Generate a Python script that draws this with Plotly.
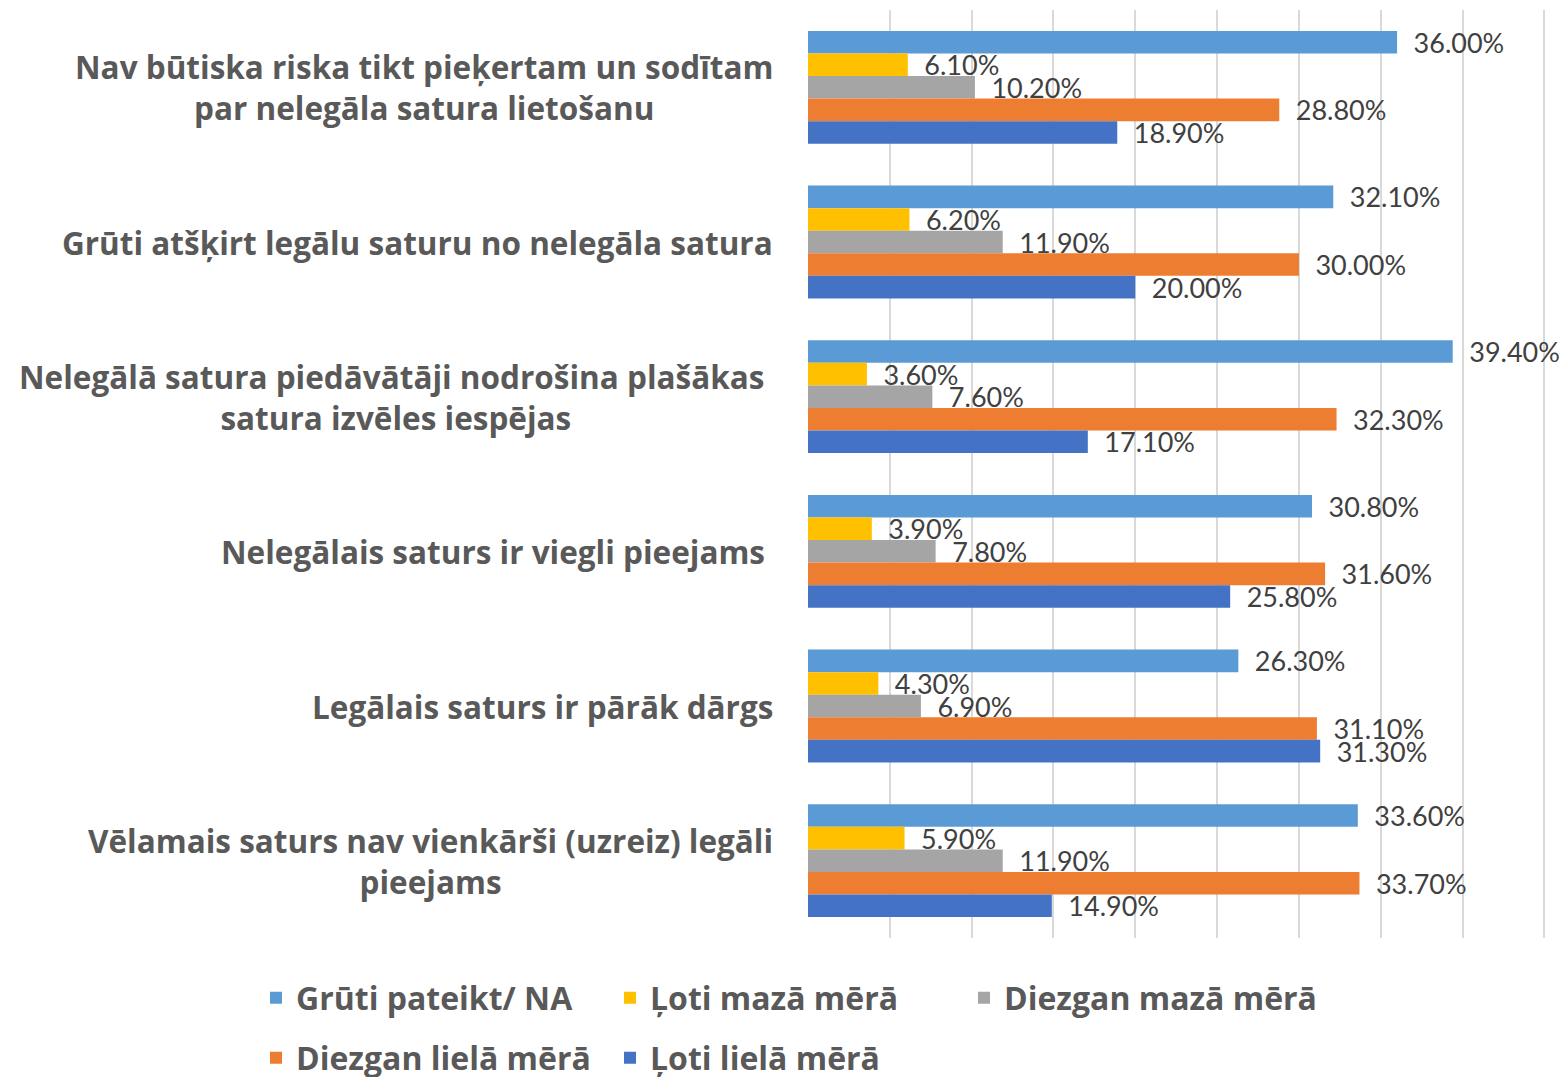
import plotly.graph_objects as go

categories = [
    "Nav būtiska riska tikt pieķertam un sodītam<br>par nelegāla satura lietošanu",
    "Grūti atšķirt legālu saturu no nelegāla satura",
    "Nelegālā satura piedāvātāji nodrošina plašākas\u00a0<br>satura izvēles iespējas",
    "Nelegālais saturs ir viegli pieejams\u00a0",
    "Legālais saturs ir pārāk dārgs",
    "Vēlamais saturs nav vienkārši (uzreiz) legāli<br>pieejams",
]

series_names = ["Grūti pateikt/ NA", "Ļoti mazā mērā", "Diezgan mazā mērā",
                "Diezgan lielā mērā", "Ļoti lielā mērā"]
gruti = [36.0, 32.1, 39.4, 30.8, 26.3, 33.6]
loti_maza = [6.1, 6.2, 3.6, 3.9, 4.3, 5.9]
diezgan_maza = [10.2, 11.9, 7.6, 7.8, 6.9, 11.9]
diezgan_liela = [28.8, 30.0, 32.3, 31.6, 31.1, 33.7]
loti_liela = [18.9, 20.0, 17.1, 25.8, 31.3, 14.9]

series_values = [gruti, loti_maza, diezgan_maza, diezgan_liela, loti_liela]
colors = ["#5B9BD5", "#FFC000", "#A5A5A5", "#ED7D31", "#4472C4"]
legend_ids = ["legend", "legend", "legend", "legend2", "legend2"]

LABEL_FONT = "Open Sans"
VALUE_FONT = "Lato"
TEXT_COLOR = "#595959"

# plot-area geometry (pixels)
W, H = 1564, 1077
ML, MR, MT, MB = 808, 18, 10, 139
PW, PH = W - ML - MR, H - MT - MB

fig = go.Figure()
for name, vals, col, lg in zip(series_names, series_values, colors, legend_ids):
    fig.add_trace(go.Bar(
        y=categories, x=vals, name=name, orientation="h",
        marker=dict(color=col, line=dict(width=0)),
        text=[f"\u2002{v:.2f}%" for v in vals],
        textposition="outside",
        textfont=dict(family=VALUE_FONT, size=27, color="#404040"),
        constraintext="none",
        cliponaxis=False,
        legend=lg,
        hoverinfo="skip",
    ))

for cat in categories:
    fig.add_annotation(
        x=0, xref="paper", y=cat, yref="y",
        text=f"<b>{cat}</b>", showarrow=False,
        xanchor="right", yanchor="middle", xshift=-33,
        align="center",
        font=dict(family=LABEL_FONT, size=31.5, color=TEXT_COLOR),
    )

legend_common = dict(
    orientation="h", xref="paper", yref="paper",
    xanchor="left", yanchor="middle",
    entrywidth=309, entrywidthmode="pixels",
    font=dict(family=LABEL_FONT, size=32, color=TEXT_COLOR, weight="bold"),
    bgcolor="rgba(0,0,0,0)",
)
fig.update_layout(
    width=W, height=H,
    margin=dict(l=ML, r=MR, t=MT, b=MB, autoexpand=False),
    plot_bgcolor="white", paper_bgcolor="white",
    barmode="group", bargap=0.27, bargroupgap=0,
    font=dict(family=LABEL_FONT, color=TEXT_COLOR),
    xaxis=dict(range=[0, 45.1], tick0=0, dtick=5, showticklabels=False,
               showgrid=True, gridcolor="#D9D9D9", gridwidth=2,
               zeroline=False, showline=False, fixedrange=True),
    yaxis=dict(autorange="reversed", showticklabels=False, showgrid=False,
               zeroline=False, showline=False),
    legend=dict(legend_common, x=(256 - ML) / PW, y=(MT + PH - 998) / PH),
    legend2=dict(legend_common, x=(256 - ML) / PW, y=(MT + PH - 1058) / PH),
    showlegend=True,
)

fig.write_html("out.html", config={"displayModeBar": False},
               post_script="document.body.style.margin='0';document.body.style.overflow='hidden';")
